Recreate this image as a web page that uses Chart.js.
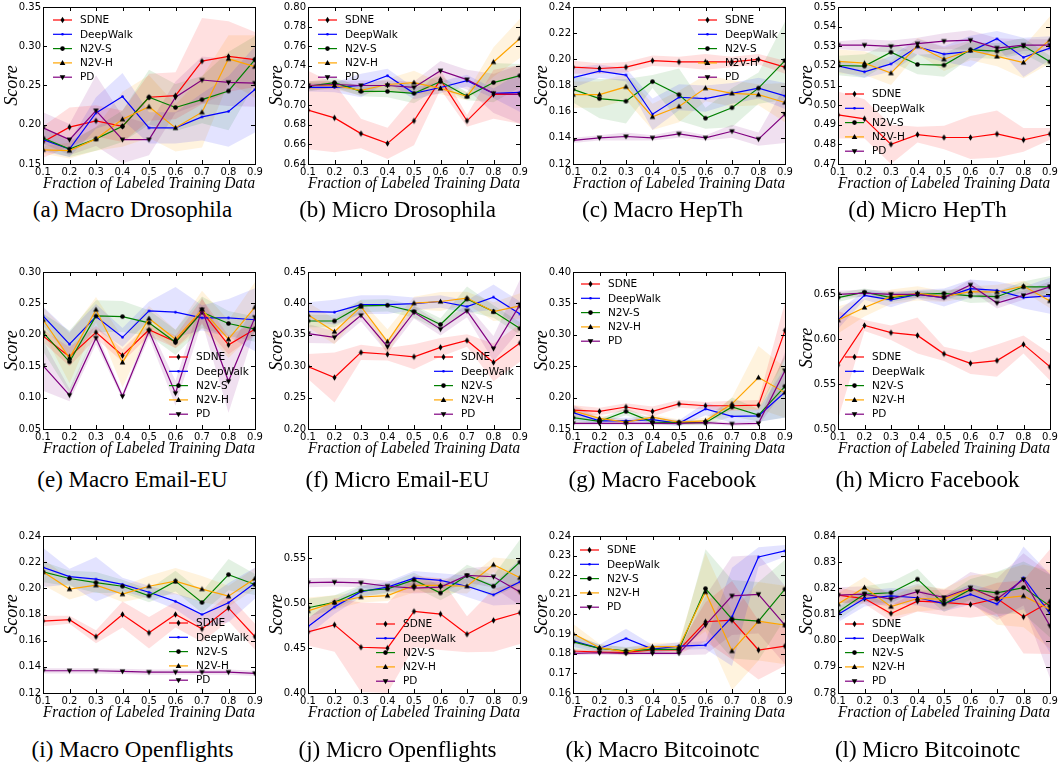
<!DOCTYPE html>
<html>
<head>
<meta charset="utf-8">
<script src="https://cdn.jsdelivr.net/npm/chart.js@4.4.1/dist/chart.umd.min.js"></script>
<style>
  html, body { margin: 0; padding: 0; background: #fff; }
  #page { position: relative; width: 1058px; height: 763px; overflow: hidden; }
  .cell { position: absolute; }
  .cap { position: absolute; width: 265px; text-align: center; color: #000;
         font-family: "Liberation Serif", "Times New Roman", serif; font-size: 23px; line-height: 24px; }
</style>
</head>
<body>
<div id="page"></div>
<script>
// ---- data ----
const methods = ["SDNE", "DeepWalk", "N2V-S", "N2V-H", "PD"];
const fractions = [0.1, 0.2, 0.3, 0.4, 0.5, 0.6, 0.7, 0.8, 0.9];
const captions = ["(a) Macro Drosophila", "(b) Micro Drosophila", "(c) Macro HepTh", "(d) Micro HepTh",
  "(e) Macro Email-EU", "(f) Micro Email-EU", "(g) Macro Facebook", "(h) Micro Facebook",
  "(i) Macro Openflights", "(j) Micro Openflights", "(k) Macro Bitcoinotc", "(l) Micro Bitcoinotc"];

// mean scores per method (SDNE, DeepWalk, N2V-S, N2V-H, PD) and half-width of shaded band
const meanA = [
  [0.178, 0.197, 0.205, 0.198, 0.235, 0.237, 0.281, 0.287, 0.283],
  [0.181, 0.169, 0.215, 0.236, 0.196, 0.196, 0.210, 0.217, 0.245],
  [0.183, 0.169, 0.182, 0.198, 0.235, 0.222, 0.232, 0.243, 0.283],
  [0.168, 0.167, 0.182, 0.207, 0.223, 0.196, 0.216, 0.284, 0.274],
  [0.196, 0.181, 0.218, 0.181, 0.181, 0.235, 0.257, 0.254, 0.253]];
const errA = [
  [0.02, 0.025, 0.02, 0.02, 0.03, 0.03, 0.055, 0.045, 0.035],
  [0.015, 0.01, 0.02, 0.03, 0.02, 0.02, 0.03, 0.045, 0.055],
  [0.015, 0.01, 0.015, 0.02, 0.035, 0.03, 0.03, 0.05, 0.03],
  [0.005, 0.01, 0.015, 0.035, 0.04, 0.03, 0.045, 0.03, 0.04],
  [0.02, 0.02, 0.045, 0.03, 0.02, 0.02, 0.03, 0.03, 0.03]];
const ticksA = [0.15, 0.20, 0.25, 0.30, 0.35];

const meanB = [
  [0.695, 0.687, 0.671, 0.661, 0.684, 0.726, 0.684, 0.711, 0.711],
  [0.718, 0.718, 0.720, 0.730, 0.712, 0.718, 0.725, 0.712, 0.713],
  [0.719, 0.723, 0.714, 0.714, 0.712, 0.724, 0.709, 0.723, 0.730],
  [0.720, 0.720, 0.715, 0.721, 0.723, 0.717, 0.709, 0.744, 0.768],
  [0.720, 0.721, 0.720, 0.720, 0.718, 0.735, 0.726, 0.712, 0.711]];
const errB = [
  [0.04, 0.035, 0.015, 0.016, 0.025, 0.01, 0.006, 0.025, 0.03],
  [0.004, 0.005, 0.012, 0.007, 0.006, 0.006, 0.006, 0.005, 0.02],
  [0.005, 0.005, 0.005, 0.006, 0.01, 0.006, 0.004, 0.02, 0.012],
  [0.004, 0.004, 0.005, 0.006, 0.012, 0.006, 0.004, 0.015, 0.02],
  [0.004, 0.004, 0.005, 0.005, 0.006, 0.01, 0.01, 0.02, 0.03]];
const ticksB = [0.64, 0.66, 0.68, 0.70, 0.72, 0.74, 0.76, 0.78, 0.80];

const meanC = [
  [0.194, 0.193, 0.194, 0.199, 0.198, 0.198, 0.198, 0.200, 0.194],
  [0.186, 0.191, 0.188, 0.158, 0.171, 0.170, 0.174, 0.178, 0.172],
  [0.177, 0.170, 0.168, 0.183, 0.173, 0.155, 0.163, 0.178, 0.199],
  [0.173, 0.173, 0.179, 0.156, 0.164, 0.178, 0.174, 0.173, 0.167],
  [0.138, 0.140, 0.141, 0.140, 0.143, 0.140, 0.145, 0.139, 0.158]];
const errC = [
  [0.005, 0.004, 0.004, 0.004, 0.004, 0.006, 0.004, 0.004, 0.005],
  [0.008, 0.005, 0.005, 0.012, 0.01, 0.01, 0.008, 0.008, 0.01],
  [0.01, 0.015, 0.017, 0.005, 0.02, 0.008, 0.015, 0.012, 0.03],
  [0.01, 0.01, 0.01, 0.01, 0.012, 0.01, 0.01, 0.008, 0.015],
  [0.002, 0.002, 0.003, 0.002, 0.003, 0.002, 0.005, 0.005, 0.022]];
const ticksC = [0.12, 0.14, 0.16, 0.18, 0.20, 0.22, 0.24];

const meanD = [
  [0.495, 0.493, 0.480, 0.485, 0.4835, 0.4835, 0.4853, 0.4823, 0.4853],
  [0.520, 0.517, 0.521, 0.5297, 0.526, 0.5274, 0.5338, 0.5243, 0.5291],
  [0.5202, 0.5199, 0.527, 0.5207, 0.5204, 0.5282, 0.5275, 0.5302, 0.5221],
  [0.5223, 0.5214, 0.5163, 0.5302, 0.5234, 0.5279, 0.5248, 0.5217, 0.5333],
  [0.5306, 0.5306, 0.5299, 0.5313, 0.5326, 0.5331, 0.5291, 0.5306, 0.5306]];
const errD = [
  [0.012, 0.01, 0.01, 0.004, 0.006, 0.011, 0.012, 0.006, 0.003],
  [0.003, 0.003, 0.004, 0.004, 0.004, 0.008, 0.004, 0.01, 0.006],
  [0.005, 0.006, 0.005, 0.005, 0.006, 0.004, 0.004, 0.004, 0.003],
  [0.006, 0.006, 0.006, 0.004, 0.006, 0.005, 0.005, 0.008, 0.012],
  [0.002, 0.003, 0.003, 0.003, 0.004, 0.005, 0.005, 0.003, 0.003]];
const ticksD = [0.47, 0.48, 0.49, 0.50, 0.51, 0.52, 0.53, 0.54, 0.55];

const meanE = [
  [0.198, 0.165, 0.204, 0.167, 0.208, 0.189, 0.237, 0.184, 0.209],
  [0.230, 0.185, 0.229, 0.196, 0.238, 0.236, 0.227, 0.227, 0.224],
  [0.204, 0.157, 0.230, 0.229, 0.219, 0.188, 0.236, 0.218, 0.209],
  [0.224, 0.163, 0.240, 0.156, 0.226, 0.193, 0.240, 0.193, 0.244],
  [0.151, 0.104, 0.195, 0.102, 0.206, 0.107, 0.240, 0.126, 0.228]];
const errE = [
  [0.01, 0.015, 0.01, 0.01, 0.01, 0.01, 0.02, 0.015, 0.01],
  [0.015, 0.02, 0.02, 0.015, 0.015, 0.04, 0.02, 0.03, 0.05],
  [0.03, 0.05, 0.025, 0.025, 0.02, 0.02, 0.025, 0.02, 0.02],
  [0.02, 0.04, 0.02, 0.04, 0.02, 0.015, 0.03, 0.03, 0.04],
  [0.04, 0.01, 0.01, 0.005, 0.01, 0.02, 0.02, 0.05, 0.02]];
const ticksE = [0.05, 0.10, 0.15, 0.20, 0.25, 0.30];

const meanF = [
  [0.2995, 0.282, 0.322, 0.319, 0.315, 0.330, 0.341, 0.306, 0.337],
  [0.387, 0.386, 0.398, 0.398, 0.3995, 0.403, 0.395, 0.410, 0.383],
  [0.372, 0.372, 0.396, 0.397, 0.387, 0.3665, 0.407, 0.387, 0.360],
  [0.382, 0.355, 0.395, 0.339, 0.4005, 0.403, 0.4085, 0.387, 0.396],
  [0.352, 0.346, 0.381, 0.331, 0.386, 0.359, 0.388, 0.328, 0.398]];
const errF = [
  [0.02, 0.04, 0.012, 0.01, 0.02, 0.015, 0.01, 0.03, 0.03],
  [0.015, 0.02, 0.015, 0.015, 0.01, 0.01, 0.01, 0.02, 0.02],
  [0.01, 0.01, 0.01, 0.01, 0.01, 0.01, 0.02, 0.01, 0.01],
  [0.02, 0.02, 0.01, 0.02, 0.01, 0.015, 0.01, 0.015, 0.02],
  [0.015, 0.01, 0.01, 0.01, 0.01, 0.01, 0.01, 0.02, 0.04]];
const ticksF = [0.20, 0.25, 0.30, 0.35, 0.40, 0.45];

const meanG = [
  [0.180, 0.178, 0.185, 0.178, 0.190, 0.187, 0.187, 0.188, 0.307],
  [0.176, 0.163, 0.163, 0.165, 0.159, 0.182, 0.170, 0.171, 0.2085],
  [0.168, 0.162, 0.178, 0.161, 0.160, 0.160, 0.185, 0.172, 0.218],
  [0.179, 0.167, 0.161, 0.169, 0.161, 0.163, 0.190, 0.232, 0.208],
  [0.159, 0.159, 0.159, 0.159, 0.159, 0.160, 0.158, 0.159, 0.243]];
const errG = [
  [0.008, 0.006, 0.006, 0.008, 0.006, 0.006, 0.008, 0.008, 0.045],
  [0.012, 0.005, 0.005, 0.005, 0.005, 0.01, 0.01, 0.01, 0.04],
  [0.008, 0.004, 0.006, 0.004, 0.004, 0.004, 0.015, 0.01, 0.05],
  [0.01, 0.005, 0.004, 0.004, 0.004, 0.005, 0.01, 0.05, 0.04],
  [0.003, 0.003, 0.003, 0.003, 0.003, 0.003, 0.003, 0.003, 0.03]];
const ticksG = [0.15, 0.20, 0.25, 0.30, 0.35, 0.40];

const meanH = [
  [0.571, 0.615, 0.607, 0.604, 0.5835, 0.573, 0.576, 0.594, 0.569],
  [0.621, 0.6485, 0.6434, 0.6496, 0.646, 0.656, 0.654, 0.646, 0.648],
  [0.646, 0.652, 0.646, 0.6496, 0.6507, 0.648, 0.647, 0.658, 0.658],
  [0.621, 0.635, 0.647, 0.6507, 0.647, 0.6526, 0.6522, 0.6588, 0.6423],
  [0.6496, 0.651, 0.6496, 0.6496, 0.646, 0.660, 0.640, 0.6485, 0.658]];
const errH = [
  [0.06, 0.006, 0.008, 0.02, 0.008, 0.012, 0.018, 0.01, 0.015],
  [0.01, 0.005, 0.008, 0.005, 0.01, 0.01, 0.01, 0.012, 0.02],
  [0.005, 0.004, 0.005, 0.004, 0.004, 0.008, 0.006, 0.006, 0.012],
  [0.015, 0.01, 0.008, 0.008, 0.006, 0.006, 0.008, 0.006, 0.008],
  [0.004, 0.004, 0.004, 0.004, 0.004, 0.006, 0.006, 0.005, 0.006]];
const ticksH = [0.50, 0.55, 0.60, 0.65];

const meanI = [
  [0.175, 0.176, 0.163, 0.180, 0.166, 0.180, 0.169, 0.185, 0.163],
  [0.216, 0.209, 0.207, 0.203, 0.197, 0.190, 0.180, 0.189, 0.204],
  [0.2126, 0.2075, 0.2044, 0.2016, 0.1943, 0.2055, 0.1892, 0.2105, 0.2029],
  [0.2126, 0.1994, 0.2024, 0.1956, 0.2016, 0.2055, 0.1994, 0.194, 0.2075],
  [0.137, 0.137, 0.137, 0.1365, 0.136, 0.136, 0.136, 0.136, 0.135]];
const errI = [
  [0.004, 0.003, 0.005, 0.01, 0.012, 0.01, 0.01, 0.01, 0.01],
  [0.015, 0.006, 0.017, 0.005, 0.005, 0.006, 0.01, 0.015, 0.012],
  [0.008, 0.006, 0.008, 0.005, 0.005, 0.008, 0.008, 0.012, 0.008],
  [0.01, 0.008, 0.005, 0.006, 0.008, 0.01, 0.01, 0.008, 0.008],
  [0.002, 0.002, 0.002, 0.002, 0.002, 0.002, 0.002, 0.002, 0.002]];
const ticksI = [0.12, 0.14, 0.16, 0.18, 0.20, 0.22, 0.24];

const meanJ = [
  [0.468, 0.476, 0.451, 0.450, 0.491, 0.488, 0.4655, 0.481, 0.4895],
  [0.474, 0.496, 0.513, 0.518, 0.528, 0.5255, 0.519, 0.5095, 0.524],
  [0.495, 0.501, 0.514, 0.516, 0.526, 0.5115, 0.531, 0.519, 0.546],
  [0.4915, 0.501, 0.507, 0.5085, 0.520, 0.520, 0.519, 0.543, 0.5285],
  [0.523, 0.5236, 0.5228, 0.519, 0.517, 0.518, 0.531, 0.5296, 0.5126]];
const errJ = [
  [0.015, 0.03, 0.05, 0.05, 0.04, 0.04, 0.02, 0.035, 0.035],
  [0.01, 0.008, 0.006, 0.006, 0.008, 0.008, 0.012, 0.012, 0.025],
  [0.01, 0.008, 0.006, 0.006, 0.008, 0.008, 0.012, 0.012, 0.025],
  [0.015, 0.008, 0.006, 0.006, 0.008, 0.008, 0.008, 0.008, 0.02],
  [0.005, 0.005, 0.005, 0.006, 0.006, 0.006, 0.008, 0.012, 0.015]];
const ticksJ = [0.40, 0.45, 0.50, 0.55];

const meanK = [
  [0.1814, 0.1808, 0.1807, 0.1819, 0.1819, 0.1963, 0.1971, 0.1819, 0.1839],
  [0.1866, 0.1827, 0.1878, 0.1824, 0.1839, 0.1844, 0.1988, 0.2293, 0.2324],
  [0.1861, 0.1827, 0.1815, 0.1822, 0.1822, 0.2132, 0.1976, 0.1966, 0.2129],
  [0.1903, 0.1831, 0.181, 0.1836, 0.1836, 0.2115, 0.1814, 0.1966, 0.1946],
  [0.1802, 0.1805, 0.1802, 0.1802, 0.1802, 0.1946, 0.2095, 0.2103, 0.1946]];
const errK = [
  [0.001, 0.001, 0.001, 0.002, 0.002, 0.01, 0.02, 0.015, 0.01],
  [0.003, 0.002, 0.005, 0.002, 0.002, 0.002, 0.025, 0.005, 0.003],
  [0.004, 0.002, 0.002, 0.002, 0.002, 0.02, 0.02, 0.02, 0.015],
  [0.005, 0.002, 0.002, 0.002, 0.002, 0.02, 0.02, 0.02, 0.02],
  [0.001, 0.001, 0.001, 0.001, 0.001, 0.015, 0.02, 0.02, 0.02]];
const ticksK = [0.16, 0.17, 0.18, 0.19, 0.20, 0.21, 0.22, 0.23, 0.24];

const meanL = [
  [0.8174, 0.8161, 0.8104, 0.8151, 0.8146, 0.8138, 0.8161, 0.8091, 0.8149],
  [0.810, 0.8161, 0.8171, 0.8164, 0.8142, 0.8177, 0.814, 0.824, 0.8104],
  [0.811, 0.8178, 0.8183, 0.8235, 0.814, 0.8196, 0.8183, 0.8203, 0.8132],
  [0.814, 0.8203, 0.813, 0.8161, 0.8159, 0.8199, 0.8161, 0.8171, 0.8119],
  [0.8174, 0.8178, 0.8159, 0.8187, 0.8165, 0.8202, 0.8159, 0.8234, 0.8056]];
const errL = [
  [0.003, 0.002, 0.003, 0.004, 0.005, 0.005, 0.006, 0.014, 0.02],
  [0.003, 0.003, 0.003, 0.003, 0.003, 0.004, 0.005, 0.012, 0.015],
  [0.003, 0.003, 0.004, 0.004, 0.003, 0.004, 0.008, 0.01, 0.012],
  [0.004, 0.004, 0.004, 0.005, 0.004, 0.005, 0.01, 0.012, 0.015],
  [0.003, 0.003, 0.003, 0.003, 0.003, 0.006, 0.008, 0.01, 0.02]];
const ticksL = [0.78, 0.79, 0.80, 0.81, 0.82, 0.83, 0.84];

// ---- styling ----
const colors = ["#ff0000", "#0000ff", "#008000", "#ffa500", "#800080"];
const bands = ["rgba(255,0,0,0.12)", "rgba(0,0,255,0.11)", "rgba(0,128,0,0.11)", "rgba(255,165,0,0.13)", "rgba(128,0,128,0.12)"];

// matplotlib-ish markers: thin diamond, point, circle, triangle up, triangle down
function drawMarker(ctx, i, x, y) {
  ctx.save();
  ctx.fillStyle = i === 1 ? "#0000ff" : "#000";
  ctx.beginPath();
  if (i === 0) { ctx.moveTo(x, y - 3.2); ctx.lineTo(x + 2, y); ctx.lineTo(x, y + 3.2); ctx.lineTo(x - 2, y); }
  else if (i === 1) { ctx.arc(x, y, 1.3, 0, Math.PI * 2); }
  else if (i === 2) { ctx.arc(x, y, 2.3, 0, Math.PI * 2); }
  else if (i === 3) { ctx.moveTo(x, y - 3); ctx.lineTo(x + 2.8, y + 2); ctx.lineTo(x - 2.8, y + 2); }
  else { ctx.moveTo(x, y + 3); ctx.lineTo(x + 2.8, y - 2); ctx.lineTo(x - 2.8, y - 2); }
  ctx.closePath();
  ctx.fill();
  ctx.restore();
}
const markerImgs = methods.map((m, i) => {
  const c = document.createElement("canvas");
  c.width = 9; c.height = 9;
  drawMarker(c.getContext("2d"), i, 4.5, 4.5);
  return c;
});

// inward ticks on all four sides + black frame
const frameTicks = {
  id: "frameTicks",
  afterDraw(chart) {
    const { ctx, chartArea: a, scales: { x, y } } = chart;
    ctx.save();
    ctx.strokeStyle = "#000";
    ctx.lineWidth = 1;
    ctx.beginPath();
    x.ticks.forEach((t) => {
      const px = Math.round(x.getPixelForValue(t.value)) + 0.5;
      ctx.moveTo(px, a.bottom); ctx.lineTo(px, a.bottom - 4);
      ctx.moveTo(px, a.top); ctx.lineTo(px, a.top + 4);
    });
    y.ticks.forEach((t) => {
      const py = Math.round(y.getPixelForValue(t.value)) + 0.5;
      ctx.moveTo(a.left, py); ctx.lineTo(a.left + 4, py);
      ctx.moveTo(a.right, py); ctx.lineTo(a.right - 4, py);
    });
    ctx.stroke();
    ctx.strokeRect(Math.round(a.left) + 0.5, Math.round(a.top) + 0.5, Math.round(a.right - a.left), Math.round(a.bottom - a.top));
    ctx.restore();
  },
};

// legend drawn inside the axes, no frame
const inLegend = {
  id: "inLegend",
  afterDatasetsDraw(chart, args, opts) {
    const { ctx, chartArea: a } = chart;
    ctx.save();
    ctx.font = '10.5px "DejaVu Sans"';
    ctx.textBaseline = "middle";
    methods.forEach((name, i) => {
      const x0 = a.left + opts.x;
      const yy = a.top + opts.y + i * 14.3;
      ctx.strokeStyle = colors[i];
      ctx.lineWidth = 1.2;
      ctx.beginPath(); ctx.moveTo(x0, yy); ctx.lineTo(x0 + 19, yy); ctx.stroke();
      drawMarker(ctx, i, x0 + 9.5, yy);
      ctx.fillStyle = "#000";
      ctx.fillText(name, x0 + 27, yy + 0.5);
    });
    ctx.restore();
  },
};

const panels = [
  { mean: meanA, err: errA, ticks: ticksA, min: 0.15, max: 0.35, leg: [10, 13] },
  { mean: meanB, err: errB, ticks: ticksB, min: 0.64, max: 0.80, leg: [10, 13] },
  { mean: meanC, err: errC, ticks: ticksC, min: 0.12, max: 0.24, leg: [125, 13] },
  { mean: meanD, err: errD, ticks: ticksD, min: 0.47, max: 0.55, leg: [7, 87] },
  { mean: meanE, err: errE, ticks: ticksE, min: 0.05, max: 0.30, leg: [126, 85] },
  { mean: meanF, err: errF, ticks: ticksF, min: 0.20, max: 0.45, leg: [126, 85] },
  { mean: meanG, err: errG, ticks: ticksG, min: 0.15, max: 0.40, leg: [8, 12] },
  { mean: meanH, err: errH, ticks: ticksH, min: 0.50, max: 0.68, leg: [7, 90], top: 267, h: 162 },
  { mean: meanI, err: errI, ticks: ticksI, min: 0.12, max: 0.24, leg: [126, 87] },
  { mean: meanJ, err: errJ, ticks: ticksJ, min: 0.40, max: 0.575, leg: [68, 88] },
  { mean: meanK, err: errK, ticks: ticksK, min: 0.16, max: 0.24, leg: [7, 14] },
  { mean: meanL, err: errL, ticks: ticksL, min: 0.78, max: 0.84, leg: [7, 88] },
];

const rowTops = [7, 272, 536];
const capMid = [210, 480, 750];
const page = document.getElementById("page");
const tickFont = { family: "DejaVu Sans", size: 10, lineHeight: 1 };

panels.forEach((p, n) => {
  const col = n % 4, row = Math.floor(n / 4);
  const plotTop = p.top || rowTops[row];
  const plotH = p.h || 157;
  const padTop = 7;
  const cv = document.createElement("canvas");
  cv.className = "cell";
  cv.width = 267; cv.height = padTop + plotH + 31;
  cv.style.left = col * 265 + "px";
  cv.style.top = plotTop - padTop + "px";
  page.appendChild(cv);

  const cap = document.createElement("div");
  cap.className = "cap";
  cap.textContent = captions[n];
  cap.style.left = col * 265 + "px";
  cap.style.top = capMid[row] - 12 + "px";
  page.appendChild(cap);

  const datasets = [];
  p.mean.forEach((m, i) => {
    const e = p.err[i];
    datasets.push({ data: fractions.map((x, k) => ({ x, y: m[k] + e[k] })), borderColor: "transparent", borderWidth: 0, pointRadius: 0, fill: false, order: 10 });
    datasets.push({ data: fractions.map((x, k) => ({ x, y: m[k] - e[k] })), borderColor: "transparent", borderWidth: 0, pointRadius: 0, fill: "-1", backgroundColor: bands[i], order: 10 });
  });
  p.mean.forEach((m, i) => {
    datasets.push({
      label: methods[i],
      data: fractions.map((x, k) => ({ x, y: m[k] })),
      borderColor: colors[i], borderWidth: 1.2, fill: false, tension: 0,
      pointStyle: markerImgs[i], pointRadius: 3, order: 5 - i,
    });
  });

  new Chart(cv, {
    type: "line",
    data: { datasets },
    options: {
      responsive: false, animation: false, devicePixelRatio: 1, events: [],
      layout: { padding: { top: padTop, right: 12, bottom: 0, left: 0 } },
      plugins: {
        legend: { display: false }, tooltip: { enabled: false },
        filler: { drawTime: "beforeDatasetsDraw", propagate: false },
        inLegend: { x: p.leg[0], y: p.leg[1] },
      },
      scales: {
        x: {
          type: "linear", min: 0.1, max: 0.9,
          afterBuildTicks: (s) => { s.ticks = fractions.map((v) => ({ value: v })); },
          afterFit: (s) => { s.height = 31; },
          ticks: { font: tickFont, color: "#000", padding: 3, maxRotation: 0, autoSkip: false, callback: (v) => v.toFixed(1) },
          grid: { display: false, drawTicks: false }, border: { display: false },
          title: { display: true, text: "Fraction of Labeled Training Data", color: "#000",
                   font: { family: "Liberation Serif", style: "italic", size: 17, lineHeight: 1 }, padding: { top: 0, bottom: 3 } },
        },
        y: {
          min: p.min, max: p.max,
          afterBuildTicks: (s) => { s.ticks = p.ticks.map((v) => ({ value: v })); },
          afterFit: (s) => { s.width = 43; },
          ticks: { font: tickFont, color: "#000", padding: 2, autoSkip: false, callback: (v) => v.toFixed(2) },
          grid: { display: false, drawTicks: false }, border: { display: false },
          title: { display: true, text: "Score", color: "#000",
                   font: { family: "Liberation Serif", style: "italic", size: 18, lineHeight: 1 }, padding: { top: 3, bottom: 0 } },
        },
      },
    },
    plugins: [frameTicks, inLegend],
  });
});
</script>
</body>
</html>
